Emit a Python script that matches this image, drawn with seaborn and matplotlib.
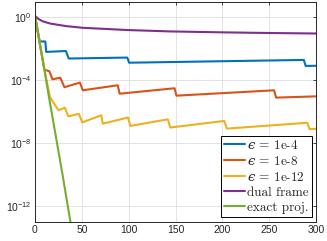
import matplotlib
matplotlib.use("Agg")
import matplotlib.pyplot as plt
from matplotlib.ticker import NullLocator, FixedLocator
import numpy as np
import pandas as pd
import seaborn as sns

# ---- data ----
eps4_x = [0, 5, 11, 12, 33, 36, 98.5, 100.5, 287, 289, 300]
eps4_y = [1.2, 2.9e-2, 2.9e-2, 6.3e-3, 7.2e-3, 2.4e-3, 2.75e-3, 1.3e-3, 1.95e-3, 8.1e-4, 8.3e-4]

eps8_x = [0, 5, 10, 15.4, 18.6, 27, 31.4, 48, 51, 88.3, 90.4, 149, 151, 255.3, 257.4, 300]
eps8_y = [1.2, 2.3e-2, 4.7e-4, 3.7e-4, 1.15e-4, 1.45e-4, 3.6e-5, 7.1e-5, 2.3e-5,
          4.8e-5, 1.4e-5, 3.1e-5, 1.05e-5, 2.3e-5, 7.9e-6, 9.5e-6]

eps12_x = [0, 5, 10, 16, 25, 31.9, 35.6, 46.8, 50.5, 70.7, 72.3, 99.3, 101.8,
           141.8, 144.4, 202.1, 204.8, 290.7, 293.1, 300]
eps12_y = [1.2, 2.3e-2, 4.7e-4, 8.3e-6, 1.26e-6, 1.8e-6, 5.1e-7, 7.4e-7, 2.1e-7,
           6.0e-7, 1.75e-7, 4.3e-7, 1.26e-7, 3.3e-7, 1.0e-7, 2.6e-7, 8.5e-8,
           2.0e-7, 7.8e-8, 8.3e-8]

dual_x = [0, 4, 8, 16, 33, 51, 98, 144, 200, 250, 300]
dual_y = [1.2, 0.76, 0.56, 0.40, 0.275, 0.214, 0.155, 0.126, 0.110, 0.100, 0.093]

exact_x = [0, 5, 10, 15, 20, 25, 30, 35, 42]
exact_y = [1.2, 2.5e-2, 5.0e-4, 8.0e-6, 1.6e-7, 3.2e-9, 6.3e-11, 1.0e-12, 4.0e-15]

labels = ["$\u03f5$ = 1e-4", "$\u03f5$ = 1e-8", "$\u03f5$ = 1e-12",
          "dual frame", "exact proj."]
colors = ["#0072BD", "#D95319", "#EDB120", "#7E2F8E", "#77AC30"]

xticks = [0, 50, 100, 150, 200, 250, 300]
yticks = [1e0, 1e-4, 1e-8, 1e-12]

frames = []
for lab, xs, ys in zip(labels,
                       [eps4_x, eps8_x, eps12_x, dual_x, exact_x],
                       [eps4_y, eps8_y, eps12_y, dual_y, exact_y]):
    frames.append(pd.DataFrame({"x": xs, "y": ys, "series": lab}))
df = pd.concat(frames, ignore_index=True)

sns.set_theme(style="white")
plt.rcParams.update({
    "font.family": ["Liberation Sans", "DejaVu Sans"],
    "font.size": 7.5,
    "mathtext.fontset": "custom",
    "mathtext.rm": "Liberation Sans",
    "mathtext.it": "DejaVu Serif:italic",
    "mathtext.bf": "Liberation Sans:bold",
    "mathtext.fallback": "stix",
    "xtick.direction": "in",
    "ytick.direction": "in",
    "xtick.top": True,
    "ytick.right": True,
    "xtick.major.size": 2.5,
    "ytick.major.size": 2.5,
    "xtick.major.width": 0.6,
    "ytick.major.width": 0.6,
    "xtick.color": "#262626",
    "ytick.color": "#262626",
    "xtick.labelcolor": "#262626",
    "ytick.labelcolor": "#262626",
})

fig = plt.figure(figsize=(3.27, 2.41), dpi=100)
ax = fig.add_axes([35 / 327, 1 - 222 / 241, 281 / 327, 220.5 / 241])

sns.lineplot(data=df, x="x", y="y", hue="series", hue_order=labels,
             palette=colors, estimator=None, sort=False, linewidth=1.5,
             ax=ax, legend=True)

ax.set_yscale("log")
ax.set_xlim(0, 300)
ax.set_ylim(1e-13, 1e1)
ax.xaxis.set_major_locator(FixedLocator(xticks))
ax.yaxis.set_major_locator(FixedLocator(yticks))
ax.yaxis.set_minor_locator(NullLocator())
ax.xaxis.set_minor_locator(NullLocator())
ax.set_xlabel("")
ax.set_ylabel("")
ax.grid(True, color="#e3e3e3", linewidth=0.7)
ax.set_axisbelow(True)
for sp in ax.spines.values():
    sp.set_color("#262626")
    sp.set_linewidth(0.7)
ax.tick_params(axis="both", labelsize=7.5, pad=2.5)

handles, _ = ax.get_legend_handles_labels()
leg = ax.legend(handles[:5], labels, loc="lower right",
                bbox_to_anchor=(0.985, 0.023), borderaxespad=0,
                prop={"family": ["cmr10", "DejaVu Serif"], "size": 9.5},
                frameon=True, fancybox=False, framealpha=1,
                edgecolor="black", handlelength=1.6, handletextpad=0.2,
                labelspacing=0.22, borderpad=0.22)
leg.get_frame().set_linewidth(0.7)
for h in leg.get_lines():
    h.set_linewidth(1.5)

fig.savefig("out.png", dpi=100)
